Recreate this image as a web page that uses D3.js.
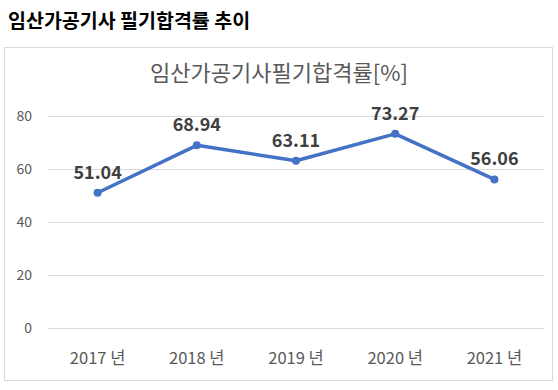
<!DOCTYPE html>
<html>
<head>
<meta charset="utf-8">
<script src="https://cdn.jsdelivr.net/npm/d3@7"></script>
<style>
  body { margin: 0; background: #fff; font-family: "Noto Sans CJK KR", "Noto Sans", sans-serif; }
  svg { display: block; }
</style>
</head>
<body>
<div id="chart"></div>
<script>
// data
const years = ["2017 년", "2018 년", "2019 년", "2020 년", "2021 년"];
const rates = [51.04, 68.94, 63.11, 73.27, 56.06];
const yTicks = [0, 20, 40, 60, 80];

const width = 558, height = 390;

const svg = d3.select("#chart")
    .append("svg")
    .attr("width", width)
    .attr("height", height);

// page heading
svg.append("text")
    .attr("x", 8)
    .attr("y", 28)
    .attr("font-size", 19.5)
    .attr("font-weight", "bold")
    .attr("fill", "#000")
    .text("임산가공기사 필기합격률 추이");

// chart frame
svg.append("rect")
    .attr("x", 4.5)
    .attr("y", 47.5)
    .attr("width", 548)
    .attr("height", 333)
    .attr("fill", "#fff")
    .attr("stroke", "#d9d9d9");

// chart title
svg.append("text")
    .attr("x", 279)
    .attr("y", 81)
    .attr("text-anchor", "middle")
    .attr("font-size", 22)
    .attr("fill", "#595959")
    .text("임산가공기사필기합격률[%]");

// scales
const x = d3.scaleBand()
    .domain(years)
    .range([48, 544]);

const y = d3.scaleLinear()
    .domain([0, 80])
    .range([328, 116]);

// gridlines
svg.append("g")
    .selectAll("line")
    .data(yTicks)
    .enter().append("line")
    .attr("x1", 48)
    .attr("x2", 544)
    .attr("y1", d => Math.round(y(d)) + 0.5)
    .attr("y2", d => Math.round(y(d)) + 0.5)
    .attr("stroke", "#d9d9d9");

// y labels
svg.append("g")
    .selectAll("text")
    .data(yTicks)
    .enter().append("text")
    .attr("x", 32)
    .attr("y", d => y(d))
    .attr("dy", "0.35em")
    .attr("text-anchor", "end")
    .attr("font-size", 14)
    .attr("fill", "#595959")
    .text(d => d);

// x labels
svg.append("g")
    .selectAll("text")
    .data(years)
    .enter().append("text")
    .attr("x", d => x(d) + x.bandwidth() / 2)
    .attr("y", 358)
    .attr("dy", "0.35em")
    .attr("text-anchor", "middle")
    .attr("font-size", 16.5)
    .attr("fill", "#595959")
    .text(d => d);

// line
const pts = years.map((d, i) => ({ year: d, value: rates[i] }));

const line = d3.line()
    .x(d => x(d.year) + x.bandwidth() / 2)
    .y(d => y(d.value));

svg.append("path")
    .datum(pts)
    .attr("fill", "none")
    .attr("stroke", "#4472c4")
    .attr("stroke-width", 3.5)
    .attr("stroke-linejoin", "round")
    .attr("d", line);

svg.append("g")
    .selectAll("circle")
    .data(pts)
    .enter().append("circle")
    .attr("cx", d => x(d.year) + x.bandwidth() / 2)
    .attr("cy", d => y(d.value))
    .attr("r", 4)
    .attr("fill", "#4472c4");

// data labels
svg.append("g")
    .selectAll("text")
    .data(pts)
    .enter().append("text")
    .attr("x", d => x(d.year) + x.bandwidth() / 2)
    .attr("y", d => y(d.value) - 14)
    .attr("text-anchor", "middle")
    .attr("font-size", 18)
    .attr("font-weight", "bold")
    .attr("fill", "#404040")
    .text(d => d.value.toFixed(2));
</script>
</body>
</html>
